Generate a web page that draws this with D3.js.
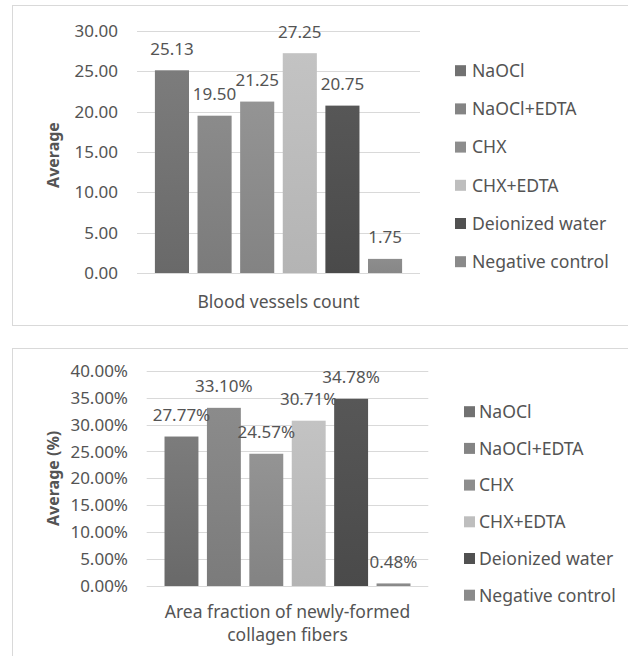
<!DOCTYPE html>
<html><head><meta charset="utf-8">
<script src="https://cdn.jsdelivr.net/npm/d3@7"></script>
<style>body{margin:0;background:#fff}svg{display:block}text{font-family:"Noto Sans",sans-serif;fill:#545454}</style>
</head><body>
<script>
const categories = ["NaOCl","NaOCl+EDTA","CHX","CHX+EDTA","Deionized water","Negative control"];
const bloodValues = [25.13,19.50,21.25,27.25,20.75,1.75];
const collagenValues = [27.77,33.10,24.57,30.71,34.78,0.48];
const bloodTicks = [0,5,10,15,20,25,30];
const collagenTicks = [0,5,10,15,20,25,30,35,40];
const colorsTop = ["#7c7c7c","#8b8b8b","#949494","#c3c3c3","#575757","#8d8d8d"];
const colorsBot = ["#696969","#7b7b7b","#838383","#b4b4b4","#4a4a4a","#878787"];
const legendColors = ["#717171","#848484","#8d8d8d","#bebebe","#515151","#8a8a8a"];

const W=628,H=656;
const svg=d3.select("body").append("svg").attr("width",W).attr("height",H);
const defs=svg.append("defs");
categories.forEach((c,i)=>{
  const g=defs.append("linearGradient").attr("id","g"+i).attr("x1",0).attr("y1",0).attr("x2",0).attr("y2",1);
  g.append("stop").attr("offset","0%").attr("stop-color",colorsTop[i]);
  g.append("stop").attr("offset","100%").attr("stop-color",colorsBot[i]);
});

function chart(o){
  svg.append("rect").attr("x",o.box[0]+0.5).attr("y",o.box[1]+0.5).attr("width",W).attr("height",o.box[2]-o.box[1])
    .attr("fill","none").attr("stroke","#d9d9d9");
  const y=d3.scaleLinear().domain([0,o.max]).range([o.y0,o.y1]);
  const x=d3.scaleBand().domain(categories).range([o.x0,o.x1]).paddingInner(0.2).paddingOuter(0.42);
  const g=svg.append("g");
  g.selectAll("line.grid").data(o.ticks).join("line").attr("class","grid")
    .attr("x1",o.x0).attr("x2",o.x1).attr("y1",d=>Math.round(y(d))+0.5).attr("y2",d=>Math.round(y(d))+0.5)
    .attr("stroke","#d9d9d9").attr("stroke-width",1);
  g.selectAll("text.tick").data(o.ticks).join("text").attr("class","tick")
    .attr("x",o.tickX).attr("y",d=>y(d)).attr("dy","0.36em").attr("text-anchor","end")
    .style("font-size","17px").text(o.fmt);
  g.selectAll("rect.bar").data(o.values).join("rect").attr("class","bar")
    .attr("x",(d,i)=>x(categories[i])).attr("width",x.bandwidth())
    .attr("y",d=>y(d)).attr("height",d=>y(0)-y(d)).attr("fill",(d,i)=>"url(#g"+i+")");
  g.selectAll("text.lbl").data(o.values).join("text").attr("class","lbl")
    .attr("x",(d,i)=>x(categories[i])+x.bandwidth()/2).attr("y",d=>y(d)-15.5)
    .attr("text-anchor","middle").style("font-size","17px").text(o.lfmt);
  g.append("text").attr("transform",`translate(${o.titleX},${(o.y0+o.y1)/2+o.titleDy}) rotate(-90)`)
    .attr("text-anchor","middle").attr("dy","0.35em").style("font-size","16px").style("font-weight","bold").text(o.yTitle);
  o.xTitle.forEach((t,k)=>{
    g.append("text").attr("x",(o.x0+o.x1)/2).attr("y",o.y0+o.xTitleDy+k*23).attr("text-anchor","middle")
      .style("font-size","17.5px").text(t);
  });
  const lg=g.append("g");
  categories.forEach((c,i)=>{
    const cy=o.legY+i*o.legStep;
    lg.append("rect").attr("x",o.legX).attr("y",cy-5.5).attr("width",11).attr("height",11).attr("fill",legendColors[i]);
    lg.append("text").attr("x",o.legX+o.legGap).attr("y",cy).attr("dy","0.36em").style("font-size","17.6px").text(c);
  });
}

chart({box:[12,5,325],max:30,y0:273,y1:31,x0:137,x1:420,ticks:bloodTicks,
  fmt:d=>d.toFixed(2),lfmt:d=>d.toFixed(2),tickX:118,titleX:53,titleDy:3,yTitle:"Average",
  xTitle:["Blood vessels count"],xTitleDy:35,legX:455,legGap:17,legY:70.7,legStep:38.2,values:bloodValues});
chart({box:[12,348,700],max:40,y0:586,y1:370.7,x0:146.7,x1:428.3,ticks:collagenTicks,
  fmt:d=>d.toFixed(2)+"%",lfmt:d=>d.toFixed(2)+"%",tickX:128,titleX:53,titleDy:0,yTitle:"Average (%)",
  xTitle:["Area fraction of newly-formed","collagen fibers"],xTitleDy:32,legX:464,legGap:15,legY:411.7,legStep:36.7,values:collagenValues});
</script>
</body></html>
